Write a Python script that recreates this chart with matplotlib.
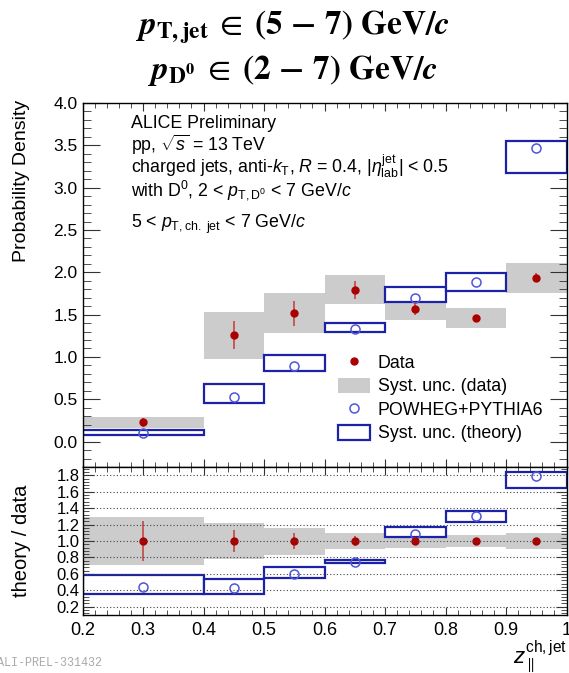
import matplotlib
matplotlib.use("Agg")
import matplotlib.pyplot as plt
from matplotlib.patches import Rectangle, Patch
from matplotlib.lines import Line2D
from matplotlib.ticker import MultipleLocator, FixedLocator

plt.rcParams['font.family'] = ['Liberation Sans', 'DejaVu Sans']
plt.rcParams['mathtext.fontset'] = 'custom'
plt.rcParams['mathtext.rm'] = 'Liberation Sans'
plt.rcParams['mathtext.it'] = 'Liberation Sans:italic'
plt.rcParams['mathtext.bf'] = 'Liberation Sans:bold'

# Bins in z_parallel
bin_lo = [0.2, 0.4, 0.5, 0.6, 0.7, 0.8, 0.9]
bin_hi = [0.4, 0.5, 0.6, 0.7, 0.8, 0.9, 1.0]
x_center = [0.3, 0.45, 0.55, 0.65, 0.75, 0.85, 0.95]

# Top panel: probability density
data_y = [0.229, 1.26, 1.516, 1.79, 1.567, 1.457, 1.936]
data_stat = [0.055, 0.17, 0.145, 0.105, 0.07, 0.04, 0.05]
data_sys_lo = [0.158, 0.976, 1.287, 1.62, 1.434, 1.339, 1.757]
data_sys_hi = [0.295, 1.535, 1.76, 1.968, 1.70, 1.575, 2.106]
theory_y = [0.10, 0.53, 0.894, 1.327, 1.693, 1.886, 3.464]
theory_lo = [0.079, 0.453, 0.835, 1.30, 1.646, 1.783, 3.176]
theory_hi = [0.135, 0.68, 1.024, 1.398, 1.823, 1.988, 3.55]

# Bottom panel: theory / data
ratio_data = [1.0, 1.0, 1.0, 1.0, 1.0, 1.0, 1.0]
ratio_stat = [0.245, 0.136, 0.095, 0.06, 0.045, 0.03, 0.026]
ratio_sys_lo = [0.714, 0.779, 0.835, 0.903, 0.916, 0.926, 0.904]
ratio_sys_hi = [1.293, 1.214, 1.157, 1.097, 1.085, 1.078, 1.093]
ratio_theory = [0.442, 0.425, 0.594, 0.743, 1.085, 1.298, 1.788]
ratio_theory_lo = [0.361, 0.361, 0.55, 0.731, 1.052, 1.226, 1.648]
ratio_theory_hi = [0.582, 0.542, 0.683, 0.775, 1.165, 1.366, 1.836]

ratio_ticks = [0.2, 0.4, 0.6, 0.8, 1.0, 1.2, 1.4, 1.6, 1.8]
x_ticks = [0.2, 0.3, 0.4, 0.5, 0.6, 0.7, 0.8, 0.9, 1.0]
x_ticklabels = ["0.2", "0.3", "0.4", "0.5", "0.6", "0.7", "0.8", "0.9", "1"]

RED = '#aa0000'
ERR_RED = '#c23a3a'
GRAY = '#cccccc'
BOX_BLUE = '#1c22a8'
PT_BLUE = '#4f55dd'

W, H = 569, 673
fig = plt.figure(figsize=(W / 100, H / 100), dpi=100)
L, R = 82.5 / W, 566.5 / W
ax = fig.add_axes([L, 1 - 467 / H, R - L, (467 - 103) / H])
axr = fig.add_axes([L, 1 - 615 / H, R - L, (615 - 467) / H])


def draw_panel(a, y, stat, slo, shi, ty, tlo, thi):
    for i in range(len(bin_lo)):
        a.add_patch(Rectangle((bin_lo[i], slo[i]), bin_hi[i] - bin_lo[i], shi[i] - slo[i],
                              facecolor=GRAY, edgecolor='none', zorder=1))
        a.add_patch(Rectangle((bin_lo[i], tlo[i]), bin_hi[i] - bin_lo[i], thi[i] - tlo[i],
                              facecolor='white', edgecolor=BOX_BLUE, lw=1.6, zorder=2))
    a.plot(x_center, ty, 'o', mfc='none', mec=PT_BLUE, ms=6.5, mew=1.1, zorder=3)
    a.errorbar(x_center, y, yerr=stat, fmt='none', ecolor=ERR_RED, elinewidth=1.1, zorder=4)
    a.plot(x_center, y, 'o', color=RED, ms=5, zorder=5)


draw_panel(ax, data_y, data_stat, data_sys_lo, data_sys_hi, theory_y, theory_lo, theory_hi)
draw_panel(axr, ratio_data, ratio_stat, ratio_sys_lo, ratio_sys_hi,
           ratio_theory, ratio_theory_lo, ratio_theory_hi)

# axes setup
for a in (ax, axr):
    a.set_xlim(0.2, 1.0)
    a.xaxis.set_major_locator(FixedLocator(x_ticks))
    a.xaxis.set_minor_locator(MultipleLocator(0.02))
    a.tick_params(which='both', direction='in', top=True, right=True, color='#333333')
    a.tick_params(axis='x', which='major', length=6)
    a.tick_params(axis='x', which='minor', length=3.5)
    for s in a.spines.values():
        s.set_linewidth(1.0)

ax.set_ylim(-0.3, 4.0)
ax.yaxis.set_major_locator(MultipleLocator(0.5))
ax.yaxis.set_minor_locator(MultipleLocator(0.1))
ax.yaxis.set_major_formatter(matplotlib.ticker.FormatStrFormatter('%.1f'))
ax.tick_params(axis='y', which='major', length=12, labelsize=12.5)
ax.tick_params(axis='y', which='minor', length=6)
ax.tick_params(axis='x', labelbottom=False)

axr.set_ylim(0.1, 1.9)
axr.yaxis.set_major_locator(FixedLocator(ratio_ticks))
axr.yaxis.set_minor_locator(MultipleLocator(0.04))
axr.yaxis.set_major_formatter(matplotlib.ticker.FormatStrFormatter('%.1f'))
axr.tick_params(axis='y', which='major', length=8, labelsize=12, pad=2)
axr.tick_params(axis='y', which='minor', length=4)
axr.set_xticklabels(x_ticklabels)
axr.tick_params(axis='x', which='major', labelsize=13, pad=5)
for t in ratio_ticks:
    axr.axhline(t, color='#444444', ls=(0, (1, 2)), lw=0.8, zorder=6)

# legend
handles = [
    Line2D([], [], ls='none', marker='o', color=RED, ms=5),
    Patch(facecolor=GRAY, edgecolor='none'),
    Line2D([], [], ls='none', marker='o', mfc='none', mec=PT_BLUE, ms=6.5, mew=1.1),
    Patch(facecolor='white', edgecolor=BOX_BLUE, lw=1.6),
]
labels = ["Data", "Syst. unc. (data)", "POWHEG+PYTHIA6", "Syst. unc. (theory)"]
ax.legend(handles, labels, loc='upper left', bbox_to_anchor=(0.527, 0.31), frameon=False,
          fontsize=12.8, handlelength=1.8, handleheight=0.95, handletextpad=0.45,
          labelspacing=0.32, borderpad=0, borderaxespad=0)

# info text
tx = 0.1
info = [
    (124, "ALICE Preliminary"),
    (145, r"pp, $\sqrt{s}$ = 13 TeV"),
    (166, r"charged jets, anti-$k_{\rm T}$, $R$ = 0.4, $|\eta^{\rm jet}_{\rm lab}|$ < 0.5"),
    (190, r"with D$^{0}$, 2 < $p_{\rm T,D^{0}}$ < 7 GeV/$c$"),
    (224, r"5 < $p_{\rm T,ch.\ jet}$ < 7 GeV/$c$"),
]
for ypix, s in info:
    fig.text(L + tx * (R - L), 1 - ypix / H, s, fontsize=12.8, va='center', ha='left')

# titles
fig.text(292 / W, 1 - 27 / H, r"$\mathbfit{p}_{\mathbf{T,jet}}\;\in\;\mathbf{(5\,-\,7)\ GeV/}\mathbfit{c}$",
         fontsize=24, ha='center', va='center', math_fontfamily='stix')
fig.text(292 / W, 1 - 70 / H, r"$\mathbfit{p}_{\mathbf{D^{0}}}\;\in\;\mathbf{(2\,-\,7)\ GeV/}\mathbfit{c}$",
         fontsize=24, ha='center', va='center', math_fontfamily='stix')

# axis labels
fig.text(22 / W, 1 - 100 / H, "Probability Density", rotation=90, fontsize=14,
         ha='center', va='top')
fig.text(22 / W, 1 - 541 / H, "theory / data", rotation=90, fontsize=14.5,
         ha='center', va='center')
fig.text(567 / W, 1 - 657 / H, r"$z_{\parallel}^{\rm ch,jet}$", fontsize=16, ha='right', va='center')

fig.text(-0.005, 1 - 663 / H, "ALI-PREL-331432", family='Liberation Mono', fontsize=8.5,
         color='#aaaaaa', va='center', ha='left')

fig.savefig("out.png", dpi=100)
